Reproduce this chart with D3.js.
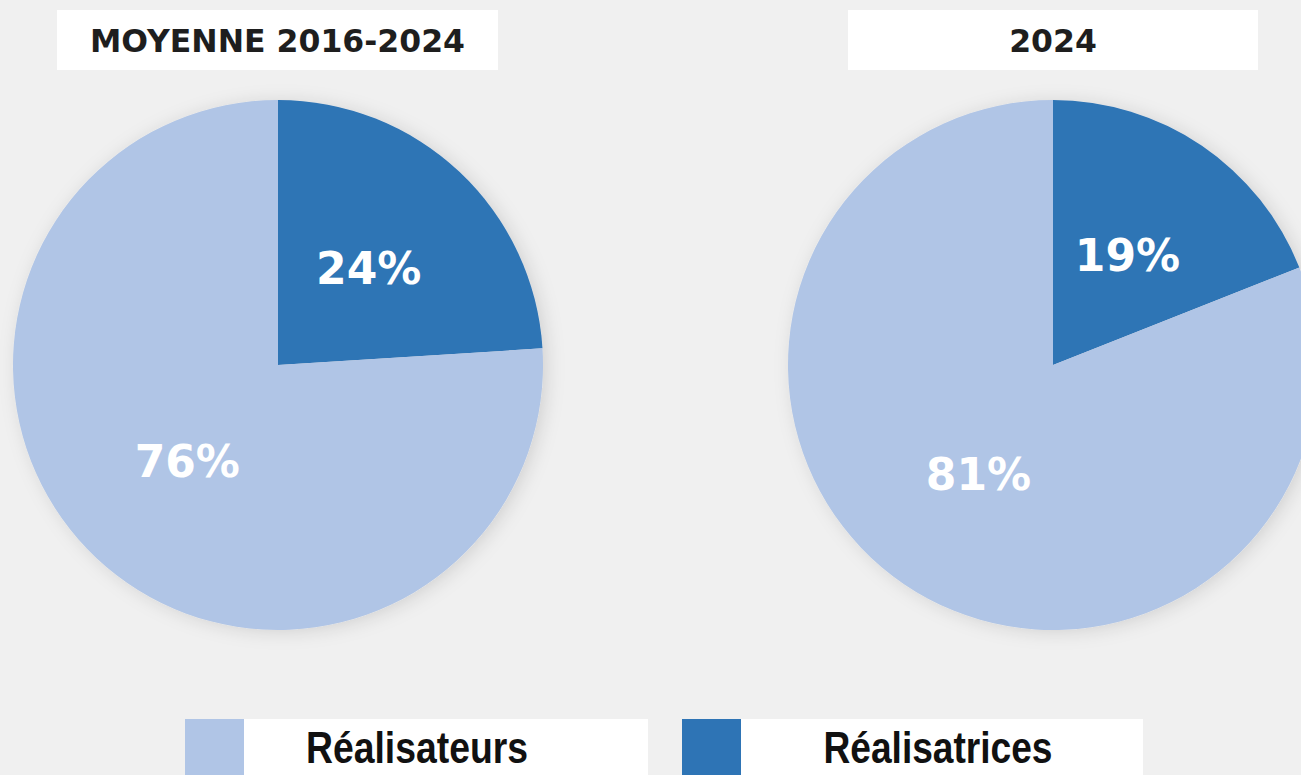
<!DOCTYPE html>
<html lang="fr">
<head>
    <meta charset="UTF-8">
    <title>Réalisateurs / Réalisatrices</title>
    <style>
        html, body {
            margin: 0;
            padding: 0;
            background-color: #f0f0f0;
            overflow: hidden;
        }
        svg { display: block; }
    </style>
    <script src="https://d3js.org/d3.v7.min.js"></script>
</head>
<body>
    <svg width="1301" height="775"></svg>
    <script>
        // data
        const categories = ["Réalisateurs", "Réalisatrices"];
        const periods = ["MOYENNE 2016-2024", "2024"];
        const avgValues = [76, 24];
        const values2024 = [81, 19];
        const colors = ["#b0c5e6", "#2e74b5"];

        const svg = d3.select("svg");

        const radius = 265;
        const centerY = 365;

        // pie centres
        const xPos = d3.scalePoint()
            .domain(periods)
            .range([278, 1053]);

        const color = d3.scaleOrdinal()
            .domain(categories)
            .range(colors);

        // soft shadow round the pies
        const defs = svg.append("defs");
        defs.append("filter")
            .attr("id", "shadow")
            .attr("x", "-20%").attr("y", "-20%")
            .attr("width", "140%").attr("height", "140%")
            .append("feDropShadow")
            .attr("dx", 4).attr("dy", 2)
            .attr("stdDeviation", 9)
            .attr("flood-color", "#000")
            .attr("flood-opacity", 0.13);

        const pie = d3.pie()
            .sort(null)
            .value(d => d.value);

        const arc = d3.arc()
            .innerRadius(0)
            .outerRadius(radius);

        const datasets = [avgValues, values2024];

        datasets.forEach((vals, i) => {
            const rows = categories.map((c, k) => ({ cat: c, value: vals[k] }));
            // women first so the dark slice starts at 12 o'clock
            const ordered = [rows[1], rows[0]];
            const g = svg.append("g")
                .attr("transform", `translate(${xPos(periods[i])},${centerY})`);

            const slices = pie(ordered);

            g.append("g")
                .attr("filter", "url(#shadow)")
                .selectAll("path")
                .data(slices)
                .join("path")
                .attr("d", arc)
                .attr("fill", d => color(d.data.cat));

            g.selectAll("text")
                .data(slices)
                .join("text")
                .attr("transform", d => `translate(${arc.centroid(d)})`)
                .attr("text-anchor", "middle")
                .attr("dy", "0.36em")
                .attr("fill", "#ffffff")
                .attr("font-family", "'DejaVu Sans', sans-serif")
                .attr("font-weight", "bold")
                .attr("font-size", 44)
                .text(d => d.data.value + "%");

            // title box
            const boxW = i === 0 ? 441 : 410;
            const boxX = i === 0 ? 57 : 848;
            svg.append("rect")
                .attr("x", boxX)
                .attr("y", 10)
                .attr("width", boxW)
                .attr("height", 60)
                .attr("fill", "#ffffff");
            svg.append("text")
                .attr("x", boxX + boxW / 2)
                .attr("y", 52)
                .attr("text-anchor", "middle")
                .attr("fill", "#1e1e1e")
                .attr("font-family", "'DejaVu Sans', sans-serif")
                .attr("font-weight", "bold")
                .attr("font-size", 31.5)
                .text(periods[i]);
        });

        // legend
        const legendX = [185, 682];
        const boxWidths = [463, 461];
        const textWidths = [222, 229];
        const legend = svg.selectAll("g.legend")
            .data(categories)
            .join("g")
            .attr("class", "legend")
            .attr("transform", (d, i) => `translate(${legendX[i]},719)`);

        legend.append("rect")
            .attr("width", (d, i) => boxWidths[i])
            .attr("height", 60)
            .attr("fill", "#ffffff");

        legend.append("rect")
            .attr("width", 59)
            .attr("height", 60)
            .attr("fill", d => color(d));

        // condensed look: squeeze the bold face to the width in the picture
        legend.append("text")
            .attr("x", (d, i) => i === 0 ? 232 : 256)
            .attr("y", 44)
            .attr("text-anchor", "middle")
            .attr("fill", "#111")
            .attr("font-family", "'Liberation Sans', Arial, sans-serif")
            .attr("font-weight", "bold")
            .attr("font-size", 44)
            .attr("textLength", (d, i) => textWidths[i])
            .attr("lengthAdjust", "spacingAndGlyphs")
            .text(d => d);
    </script>
</body>
</html>
